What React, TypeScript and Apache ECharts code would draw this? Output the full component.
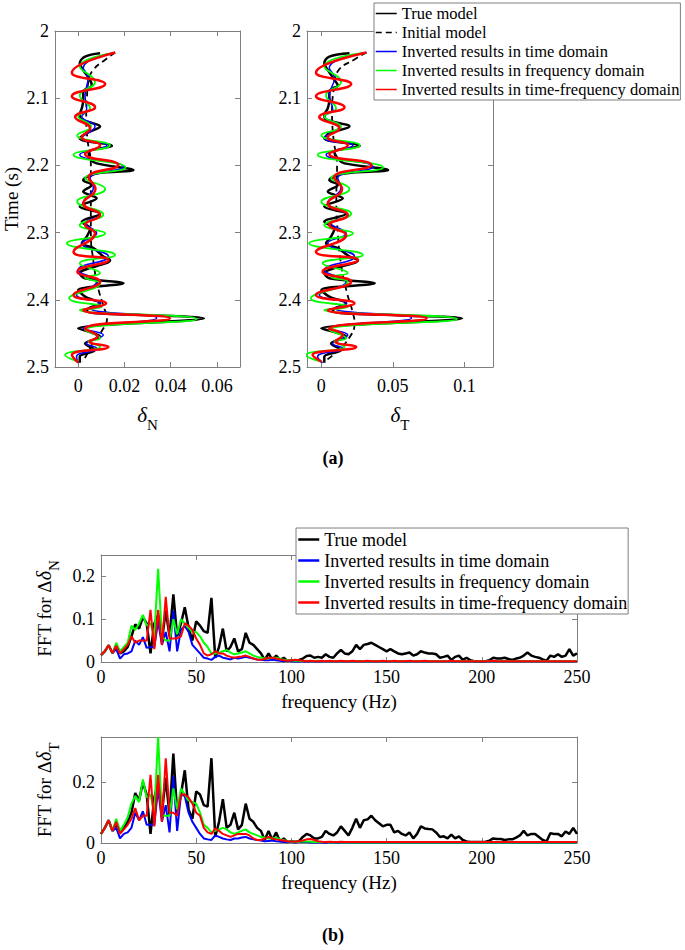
import React, { useEffect, useRef } from "react";
import * as echarts from "echarts";

const FONT = "'Liberation Serif', 'Times New Roman', serif";
const AXIS_COLOR = "#7f7f7f";

const NAMES = [
  "True model",
  "Initial model",
  "Inverted results in time domain",
  "Inverted results in frequency domain",
  "Inverted results in time-frequency domain",
];

// ---------- (a) depth/time profiles : [value, time (s)] ----------
const trueN = [[0.0095,2.033],[0.003,2.038],[0.0007,2.048],[0.0022,2.058],[0.0052,2.073],[0.0059,2.081],[0.0022,2.09],[0.0022,2.103],[0.0016,2.115],[0.0007,2.125],[0.0016,2.132],[0.0095,2.142],[0.0037,2.152],[0.0007,2.16],[0.0146,2.171],[0.0045,2.18],[0.0052,2.19],[0.008,2.197],[0.0239,2.207],[0.008,2.212],[0.0022,2.222],[0.0059,2.229],[0.0022,2.239],[0.008,2.249],[0.0007,2.261],[0.0095,2.272],[0.0016,2.284],[0.0052,2.294],[0.0037,2.306],[0.0016,2.316],[0.0066,2.323],[0.0109,2.3355],[0.0138,2.341],[0.0007,2.3606],[0.003,2.368],[0.0196,2.3755],[0,2.3854],[0.003,2.3953],[0.0095,2.4053],[0.0045,2.4127],[0.0037,2.4177],[0.0544,2.4276],[0,2.4425],[0.0045,2.4474],[0.0095,2.4549],[0.003,2.465],[0.0073,2.4747],[0.0007,2.4846],[0.0007,2.4936]];
const initN = [[0.016,2.032],[0.012,2.042],[0.0065,2.058],[0.0045,2.075],[0.0038,2.1],[0.0035,2.13],[0.004,2.16],[0.0055,2.2],[0.0055,2.25],[0.0055,2.3],[0.0065,2.34],[0.0085,2.38],[0.011,2.41],[0.0125,2.428],[0.0105,2.445],[0.007,2.46],[0.004,2.48],[0.002,2.492]];
const blueN = [[0.016,2.032],[0.0022,2.055],[0.0043,2.07],[0.003,2.096],[0.0037,2.117],[0.0016,2.127],[0.0073,2.142],[0.0016,2.159],[0.0124,2.17],[0.0007,2.184],[0.0196,2.202],[0.0052,2.219],[0.0066,2.233],[0.0022,2.256],[0.0095,2.274],[0.003,2.286],[0.008,2.301],[0.0016,2.316],[0.0131,2.3355],[0,2.3557],[0.008,2.373],[-0.0007,2.393],[0.0095,2.4053],[0.0052,2.4127],[0.034,2.427],[0.0022,2.443],[0.0109,2.4524],[0.0037,2.465],[0.008,2.4723],[-0.0007,2.4846],[0,2.4936]];
const greenN = [[0.015,2.033],[0.0007,2.053],[0.0073,2.076],[0.0007,2.096],[0.0052,2.115],[0,2.127],[0.0056,2.142],[-0.0004,2.155],[0.0138,2.17],[-0.002,2.184],[0.0205,2.203],[0.003,2.219],[0.0117,2.235],[-0.0004,2.254],[0.0109,2.273],[0.0007,2.289],[0.0117,2.301],[-0.0049,2.316],[0.016,2.3333],[0.0007,2.3458],[0.0095,2.3606],[0.003,2.367],[0.0095,2.3755],[-0.0039,2.3978],[0.0102,2.4102],[0.0007,2.415],[0.0513,2.4286],[0.003,2.445],[0.0095,2.4573],[0.0045,2.462],[0.0095,2.4698],[-0.0056,2.4822],[0,2.4921]];
const redN = [[0.016,2.032],[-0.0027,2.062],[0.0117,2.079],[-0.0027,2.097],[0.0073,2.1135],[-0.0013,2.128],[0.0052,2.145],[0.0016,2.158],[0.0095,2.17],[0.003,2.183],[0.0174,2.1995],[0.0045,2.218],[0.0075,2.235],[0.0022,2.2564],[0.0095,2.2738],[0.003,2.2887],[0.0073,2.3011],[-0.002,2.3284],[0.0131,2.3408],[-0.0003,2.3581],[0.0095,2.373],[-0.002,2.3929],[0.0121,2.4053],[0.0022,2.4152],[0.0397,2.4276],[0.003,2.443],[0.0085,2.455],[0.005,2.462],[0.0131,2.47],[-0.0027,2.4822],[0,2.4936]];

const trueT = [[0.0197,2.033],[0.0056,2.038],[0.0021,2.048],[0.0045,2.058],[0.0092,2.073],[0.0115,2.081],[0.0056,2.09],[0.0056,2.103],[0.0045,2.115],[0.0021,2.125],[0.0033,2.132],[0.0197,2.142],[0.0056,2.152],[0.0021,2.16],[0.0268,2.171],[0.0092,2.18],[0.0115,2.19],[0.0162,2.197],[0.0467,2.207],[0.0162,2.212],[0.0056,2.222],[0.0115,2.229],[0.0045,2.239],[0.015,2.249],[0.0021,2.261],[0.0174,2.272],[0.0021,2.284],[0.0092,2.294],[0.0068,2.306],[0.0033,2.316],[0.0115,2.323],[0.0197,2.3355],[0.0256,2.341],[0.0021,2.3606],[0.0056,2.368],[0.0373,2.3755],[0,2.3854],[0.0056,2.3953],[0.0174,2.4053],[0.0092,2.4127],[0.008,2.4177],[0.0984,2.4276],[0,2.4425],[0.008,2.4474],[0.0174,2.4549],[0.0068,2.465],[0.0138,2.4747],[0.0021,2.4846],[0.0021,2.4936]];
const initT = [[0.0315,2.032],[0.0235,2.042],[0.0115,2.06],[0.0092,2.08],[0.0075,2.12],[0.0085,2.16],[0.011,2.2],[0.0105,2.25],[0.0115,2.3],[0.014,2.35],[0.018,2.39],[0.0215,2.415],[0.0232,2.435],[0.02,2.455],[0.0103,2.478],[0.0021,2.492]];
const blueT = [[0.0315,2.032],[0.0056,2.055],[0.0092,2.07],[0.0056,2.096],[0.008,2.117],[0.0021,2.127],[0.0127,2.142],[0.0021,2.159],[0.0221,2.17],[0.0033,2.184],[0.0362,2.202],[0.0115,2.219],[0.0138,2.233],[0.0045,2.256],[0.0185,2.274],[0.0068,2.286],[0.0174,2.301],[0.0045,2.316],[0.0232,2.3355],[0.0021,2.3557],[0.0174,2.373],[-0.0014,2.393],[0.0174,2.4053],[0.0092,2.4127],[0.0631,2.427],[0.0056,2.443],[0.0185,2.4524],[0.008,2.465],[0.015,2.4723],[-0.0026,2.4846],[0.0009,2.4936]];
const greenT = [[0.029,2.033],[0.0021,2.053],[0.0138,2.076],[0.0033,2.096],[0.0103,2.115],[0.0021,2.127],[0.0138,2.142],[0,2.155],[0.0268,2.17],[-0.0026,2.184],[0.0432,2.203],[0.0068,2.219],[0.0197,2.235],[0,2.254],[0.0209,2.272],[0.0021,2.2887],[0.0221,2.3011],[-0.0085,2.316],[0.0291,2.3333],[0.0009,2.3458],[0.0185,2.36],[0.0068,2.366],[0.0185,2.373],[-0.0073,2.3978],[0.0185,2.4102],[0.0021,2.415],[0.0948,2.4286],[0.0056,2.445],[0.0174,2.4573],[0.0092,2.462],[0.0162,2.4698],[-0.0108,2.4822],[0,2.4921]];
const redT = [[0.0315,2.032],[-0.0037,2.062],[0.0209,2.079],[-0.0037,2.097],[0.0162,2.1135],[-0.0014,2.128],[0.0127,2.145],[0.0045,2.158],[0.0185,2.17],[0.0056,2.183],[0.035,2.1995],[0.009,2.218],[0.0145,2.235],[0.0045,2.2564],[0.0185,2.2738],[0.0056,2.2887],[0.0174,2.3036],[-0.0037,2.3284],[0.0256,2.3408],[0.0009,2.3581],[0.0209,2.373],[-0.0037,2.3929],[0.0232,2.4053],[0.0045,2.4152],[0.0737,2.4276],[0.0056,2.443],[0.015,2.4524],[0.01,2.462],[0.0244,2.4698],[-0.0061,2.4822],[0,2.4921]];

// ---------- (b) spectra ----------
const freqHz = [
  0,2,4,6,8,10,12,14,16,18, 20,22,24,26,28,30,32,34,36,38, 40,42,44,46,48,50,52,54,56,58,
  60,62,64,66,68,70,72,74,76,78, 80,82,84,86,88,90,92,94,96,98, 100,102,104,106,108,110,112,114,116,118,
  120,122,124,126,128,130,132,134,136,138, 140,142,144,146,148,150,152,154,156,158, 160,162,164,166,168,170,172,174,176,178,
  180,182,184,186,188,190,192,194,196,198, 200,202,204,206,208,210,212,214,216,218, 220,222,224,226,228,230,232,234,236,238,
  240,242,244,246,248,250,
];

const fftTrueN = [
  0.016,0.025,0.039,0.021,0.035,0.02,0.025,0.035,0.06,0.088,
  0.078,0.105,0.09,0.02,0.09,0.11,0.05,0.12,0.06,0.158,
  0.06,0.09,0.128,0.08,0.05,0.095,0.085,0.072,0.068,0.15,
  0.01,0.035,0.078,0.025,0.035,0.055,0.025,0.03,0.068,0.045,
  0.04,0.03,0.02,0.005,0.02,0.005,0.015,0.005,0.01,0.002,
  0.004,0.003,0.005,0.008,0.014,0.015,0.01,0.012,0.01,0.018,
  0.012,0.01,0.02,0.028,0.02,0.018,0.025,0.04,0.03,0.04,
  0.042,0.045,0.04,0.035,0.03,0.025,0.03,0.025,0.02,0.018,
  0.02,0.022,0.015,0.018,0.025,0.022,0.02,0.02,0.018,0.01,
  0.012,0.015,0.005,0.012,0.015,0.005,0.01,0.004,0.002,0.002,
  0.002,0.002,0.004,0.01,0.008,0.008,0.01,0.007,0.005,0.008,
  0.01,0.015,0.022,0.015,0.012,0.01,0.006,0.003,0.015,0.012,
  0.018,0.012,0.015,0.03,0.015,0.02,
];
const fftTimeN = [
  0.016,0.025,0.039,0.021,0.03,0.008,0.018,0.02,0.025,0.05,
  0.04,0.058,0.033,0.035,0.035,0.095,0.04,0.07,0.025,0.12,
  0.025,0.075,0.085,0.07,0.04,0.03,0.02,0.01,0.008,0.005,
  0.012,0.015,0.01,0.008,0.006,0.01,0.008,0.01,0.012,0.01,
  0.008,0.006,0.005,0.004,0.004,0.006,0.004,0.003,0.002,0.003,
  0.002,0.001,0.002,0.001,0.002,0.001,0.001,0.002,0.001,0.001,
  0.001,0.002,0.001,0.001,0.002,0.001,0.001,0.001,0.002,0.001,
  0.001,0.001,0.002,0.001,0.001,0.001,0.002,0.001,0.001,0.001,
  0.001,0.001,0.001,0.002,0.001,0.001,0.001,0.001,0.001,0.001,
  0.001,0.001,0.001,0.001,0.001,0.002,0.001,0.001,0.001,0.001,
  0.001,0.001,0.001,0.001,0.001,0.001,0.001,0.001,0.001,0.001,
  0.001,0.001,0.001,0.001,0.001,0.001,0.001,0.001,0.001,0.001,
  0.001,0.001,0.001,0.001,0.001,0.001,
];
const fftFreqN = [
  0.016,0.025,0.039,0.021,0.045,0.025,0.035,0.045,0.085,0.075,
  0.09,0.11,0.085,0.09,0.06,0.218,0.06,0.05,0.05,0.1,
  0.065,0.1,0.09,0.08,0.07,0.07,0.06,0.045,0.035,0.02,
  0.02,0.022,0.025,0.028,0.022,0.018,0.02,0.022,0.025,0.02,
  0.015,0.012,0.01,0.008,0.008,0.01,0.01,0.008,0.005,0.004,
  0.004,0.003,0.003,0.002,0.003,0.002,0.002,0.003,0.002,0.002,
  0.002,0.002,0.002,0.002,0.002,0.002,0.002,0.002,0.002,0.002,
  0.002,0.002,0.002,0.002,0.002,0.002,0.002,0.002,0.002,0.002,
  0.002,0.002,0.002,0.002,0.002,0.002,0.002,0.002,0.002,0.002,
  0.002,0.002,0.002,0.002,0.002,0.002,0.002,0.002,0.002,0.002,
  0.002,0.002,0.002,0.002,0.002,0.002,0.002,0.002,0.002,0.002,
  0.002,0.002,0.002,0.002,0.002,0.002,0.002,0.002,0.002,0.002,
  0.002,0.002,0.002,0.002,0.002,0.002,
];
const fftTfN = [
  0.016,0.025,0.039,0.021,0.038,0.02,0.03,0.04,0.06,0.045,
  0.05,0.05,0.05,0.122,0.03,0.122,0.04,0.152,0.055,0.055,
  0.055,0.06,0.09,0.085,0.075,0.055,0.04,0.02,0.015,0.018,
  0.025,0.02,0.02,0.015,0.012,0.01,0.012,0.013,0.015,0.012,
  0.008,0.006,0.005,0.007,0.01,0.01,0.008,0.006,0.004,0.003,
  0.004,0.005,0.004,0.003,0.002,0.003,0.002,0.002,0.003,0.002,
  0.003,0.002,0.002,0.003,0.002,0.002,0.003,0.002,0.002,0.002,
  0.003,0.002,0.002,0.002,0.003,0.002,0.002,0.003,0.002,0.002,
  0.002,0.003,0.002,0.002,0.002,0.003,0.002,0.002,0.002,0.002,
  0.002,0.002,0.003,0.002,0.002,0.002,0.002,0.002,0.002,0.002,
  0.002,0.002,0.002,0.003,0.002,0.002,0.002,0.002,0.002,0.002,
  0.002,0.002,0.002,0.002,0.002,0.002,0.002,0.002,0.002,0.002,
  0.002,0.002,0.002,0.002,0.002,0.002,
];

const fftTrueT = [
  0.03,0.05,0.075,0.04,0.065,0.035,0.05,0.07,0.1,0.165,
  0.14,0.2,0.16,0.03,0.15,0.2,0.1,0.215,0.09,0.295,
  0.1,0.16,0.24,0.11,0.08,0.17,0.16,0.125,0.12,0.28,
  0.02,0.07,0.145,0.05,0.06,0.1,0.045,0.06,0.13,0.08,
  0.07,0.05,0.04,0.01,0.04,0.01,0.035,0.005,0.015,0.003,
  0.005,0.004,0.006,0.02,0.03,0.025,0.015,0.015,0.02,0.04,
  0.03,0.025,0.035,0.055,0.04,0.025,0.05,0.08,0.05,0.075,
  0.078,0.09,0.075,0.065,0.055,0.06,0.06,0.035,0.04,0.03,
  0.025,0.035,0.015,0.03,0.055,0.048,0.046,0.045,0.035,0.02,
  0.022,0.015,0.028,0.015,0.022,0.01,0.005,0.003,0.003,0.003,
  0.003,0.004,0.008,0.015,0.013,0.013,0.01,0.012,0.012,0.018,
  0.025,0.04,0.025,0.03,0.03,0.02,0.01,0.005,0.032,0.03,
  0.03,0.022,0.038,0.03,0.05,0.03,
];
const fftTimeT = [
  0.03,0.05,0.075,0.04,0.05,0.015,0.03,0.035,0.05,0.1,
  0.075,0.105,0.06,0.06,0.06,0.18,0.07,0.125,0.035,0.22,
  0.04,0.16,0.155,0.1,0.07,0.05,0.03,0.015,0.012,0.01,
  0.025,0.02,0.015,0.012,0.01,0.015,0.015,0.018,0.02,0.015,
  0.012,0.01,0.008,0.006,0.007,0.008,0.006,0.005,0.003,0.004,
  0.003,0.002,0.003,0.004,0.003,0.002,0.002,0.002,0.002,0.001,
  0.002,0.001,0.001,0.002,0.001,0.001,0.001,0.002,0.001,0.001,
  0.001,0.001,0.002,0.001,0.001,0.001,0.001,0.001,0.001,0.001,
  0.001,0.001,0.001,0.001,0.001,0.001,0.001,0.001,0.001,0.001,
  0.001,0.001,0.001,0.001,0.001,0.001,0.001,0.001,0.001,0.001,
  0.001,0.001,0.001,0.001,0.001,0.001,0.001,0.001,0.001,0.001,
  0.001,0.001,0.001,0.001,0.001,0.001,0.001,0.001,0.001,0.001,
  0.001,0.001,0.001,0.001,0.001,0.001,
];
const fftFreqT = [
  0.03,0.05,0.075,0.04,0.08,0.04,0.06,0.085,0.13,0.155,
  0.135,0.21,0.15,0.16,0.1,0.35,0.09,0.09,0.09,0.18,
  0.11,0.18,0.16,0.14,0.135,0.13,0.1,0.06,0.05,0.035,
  0.04,0.045,0.05,0.045,0.035,0.03,0.035,0.04,0.045,0.035,
  0.03,0.025,0.02,0.018,0.015,0.015,0.018,0.012,0.01,0.006,
  0.005,0.004,0.004,0.006,0.005,0.004,0.003,0.003,0.003,0.003,
  0.002,0.002,0.003,0.002,0.002,0.002,0.002,0.002,0.002,0.002,
  0.002,0.002,0.002,0.002,0.002,0.002,0.002,0.002,0.002,0.002,
  0.002,0.002,0.002,0.002,0.002,0.002,0.002,0.002,0.002,0.002,
  0.002,0.002,0.002,0.002,0.002,0.002,0.002,0.002,0.002,0.002,
  0.002,0.002,0.002,0.002,0.002,0.002,0.002,0.002,0.002,0.002,
  0.002,0.002,0.002,0.002,0.002,0.002,0.002,0.002,0.002,0.002,
  0.002,0.002,0.002,0.002,0.002,0.002,
];
const fftTfT = [
  0.03,0.05,0.075,0.04,0.07,0.03,0.045,0.06,0.08,0.115,
  0.075,0.09,0.09,0.225,0.055,0.225,0.07,0.28,0.1,0.1,
  0.09,0.16,0.16,0.15,0.13,0.1,0.09,0.05,0.035,0.03,
  0.048,0.04,0.03,0.025,0.02,0.025,0.03,0.03,0.03,0.025,
  0.015,0.01,0.01,0.015,0.02,0.015,0.012,0.01,0.008,0.006,
  0.005,0.004,0.006,0.008,0.012,0.013,0.01,0.006,0.004,0.003,
  0.004,0.003,0.003,0.004,0.003,0.003,0.003,0.003,0.003,0.003,
  0.003,0.003,0.003,0.003,0.003,0.003,0.003,0.003,0.003,0.003,
  0.003,0.003,0.003,0.003,0.003,0.003,0.003,0.003,0.003,0.003,
  0.003,0.003,0.003,0.003,0.003,0.003,0.003,0.003,0.003,0.003,
  0.003,0.003,0.003,0.003,0.003,0.003,0.003,0.003,0.003,0.003,
  0.003,0.003,0.003,0.003,0.003,0.003,0.003,0.003,0.003,0.003,
  0.003,0.003,0.003,0.003,0.003,0.003,
];

// tick values
const ticksN = [0, 0.02, 0.04, 0.06];
const ticksT = [0, 0.05, 0.1];
const ticksTime = [2, 2.1, 2.2, 2.3, 2.4, 2.5];
const ticksFreq = [0, 50, 100, 150, 200, 250];
const ticksFftN = [0, 0.1, 0.2];
const ticksFftT = [0, 0.2];

const labelText = { fontFamily: FONT, fontSize: 18, color: "#000" };
const lineAxis = { show: true, onZero: false, lineStyle: { color: AXIS_COLOR, width: 1 } };

function boxAxes(dim: "x" | "y", grid: number, min: number, max: number, ticks: number[], opts: any) {
  const tick = { show: true, inside: true, length: 5, customValues: ticks, lineStyle: { color: AXIS_COLOR } };
  const main = {
    type: "value",
    gridIndex: grid,
    position: dim === "x" ? "bottom" : "left",
    min,
    max,
    inverse: !!opts.inverse,
    axisLine: lineAxis,
    axisTick: tick,
    axisLabel: { show: true, customValues: ticks, margin: opts.margin, ...labelText },
    splitLine: { show: false },
    name: opts.name || "",
    nameLocation: "middle",
    nameGap: opts.nameGap || 0,
    nameTextStyle: opts.nameTextStyle,
  };
  const other = {
    type: "value",
    gridIndex: grid,
    position: dim === "x" ? "top" : "right",
    min,
    max,
    inverse: !!opts.inverse,
    axisLine: lineAxis,
    axisTick: tick,
    axisLabel: { show: false },
    splitLine: { show: false },
  };
  return [main, other];
}

const subRich = (size: number) => ({
  fontFamily: FONT,
  fontSize: 20,
  color: "#000",
  rich: {
    r: { fontFamily: FONT, fontSize: size, color: "#000" },
    d: { fontFamily: FONT, fontSize: size + 1, fontStyle: "italic", color: "#000" },
    s: { fontFamily: FONT, fontSize: 15, color: "#000", padding: [20, 0, 0, 0] },
  },
});

function lineSeries(name: string, data: number[][], g: number, color: string, width: number, extra: any = {}) {
  return {
    type: "line",
    name,
    data,
    xAxisIndex: 2 * g,
    yAxisIndex: 2 * g,
    symbol: "none",
    showSymbol: false,
    lineStyle: { color, width, type: extra.dash ? [6, 4] : "solid" },
    itemStyle: { color },
    smooth: extra.smooth ?? false,
    animation: false,
  };
}

const pairs = (vals: number[]) => freqHz.map((f, i) => [f, vals[i]]);

export default function App() {
  const ref = useRef<HTMLDivElement>(null);
  useEffect(() => {
    if (!ref.current) return;
    const chart = echarts.init(ref.current, null, { renderer: "svg" });
    const grids = [
      { left: 55, top: 31, width: 185, height: 336 },
      { left: 307, top: 31, width: 186, height: 336 },
      { left: 101, top: 555, width: 476, height: 107 },
      { left: 101, top: 737, width: 476, height: 106 },
    ];
    const xAxis = [
      ...boxAxes("x", 0, -0.01, 0.07, ticksN, { margin: 10, name: "{d|δ}{s|N}", nameGap: 30, nameTextStyle: subRich(20) }),
      ...boxAxes("x", 1, -0.01, 0.12, ticksT, { margin: 10, name: "{d|δ}{s|T}", nameGap: 30, nameTextStyle: subRich(20) }),
      ...boxAxes("x", 2, 0, 250, ticksFreq, { margin: 6, name: "frequency (Hz)", nameGap: 30, nameTextStyle: { fontFamily: FONT, fontSize: 19, color: "#000" } }),
      ...boxAxes("x", 3, 0, 250, ticksFreq, { margin: 6, name: "frequency (Hz)", nameGap: 30, nameTextStyle: { fontFamily: FONT, fontSize: 19, color: "#000" } }),
    ];
    const yAxis = [
      ...boxAxes("y", 0, 2, 2.5, ticksTime, { inverse: true, margin: 6, name: "Time (s)", nameGap: 34, nameTextStyle: { fontFamily: FONT, fontSize: 19, color: "#000" } }),
      ...boxAxes("y", 1, 2, 2.5, ticksTime, { inverse: true, margin: 6 }),
      ...boxAxes("y", 2, 0, 0.25, ticksFftN, { margin: 6, name: "{r|FFT for Δ}{d|δ}{s|N}", nameGap: 38, nameTextStyle: subRich(19) }),
      ...boxAxes("y", 3, 0, 0.35, ticksFftT, { margin: 6, name: "{r|FFT for Δ}{d|δ}{s|T}", nameGap: 38, nameTextStyle: subRich(19) }),
    ];
    const series: any[] = [];
    const prof = [
      [trueN, initN, blueN, greenN, redN],
      [trueT, initT, blueT, greenT, redT],
    ];
    prof.forEach((set, g) => {
      series.push(lineSeries(NAMES[0], set[0], g, "#000000", 2.5, { smooth: 0.35 }));
      series.push(lineSeries(NAMES[1], set[1], g, "#000000", 1.8, { smooth: 0.5, dash: true }));
      series.push(lineSeries(NAMES[2], set[2], g, "#0000ff", 1.5, { smooth: 0.5 }));
      series.push(lineSeries(NAMES[3], set[3], g, "#00ff00", 1.8, { smooth: 0.5 }));
      series.push(lineSeries(NAMES[4], set[4], g, "#ff0000", 2.5, { smooth: 0.5 }));
    });
    const ffts = [
      [fftTrueN, fftTimeN, fftFreqN, fftTfN],
      [fftTrueT, fftTimeT, fftFreqT, fftTfT],
    ];
    ffts.forEach((set, k) => {
      const g = k + 2;
      series.push(lineSeries(NAMES[0], pairs(set[0]), g, "#000000", 2.5));
      series.push(lineSeries(NAMES[2], pairs(set[1]), g, "#0000ff", 2));
      series.push(lineSeries(NAMES[3], pairs(set[2]), g, "#00ff00", 2));
      series.push(lineSeries(NAMES[4], pairs(set[3]), g, "#ff0000", 2));
    });

    const legendBase = {
      orient: "vertical",
      selectedMode: false,
      itemWidth: 21,
      itemHeight: 10,
      itemGap: 2,
      padding: [2, 1, 2, 1],
      backgroundColor: "#ffffff",
      borderColor: AXIS_COLOR,
      borderWidth: 1,
      itemStyle: { opacity: 0 },
      z: 10,
    };

    chart.setOption({
      animation: false,
      backgroundColor: "#ffffff",
      grid: grids,
      xAxis,
      yAxis,
      series,
      legend: [
        {
          ...legendBase,
          left: 374,
          top: 3,
          data: NAMES,
          lineStyle: { width: 1.5 },
          textStyle: { fontFamily: FONT, fontSize: 16.5, color: "#000", lineHeight: 17 },
        },
        {
          ...legendBase,
          left: 296,
          top: 528,
          data: [NAMES[0], NAMES[2], NAMES[3], NAMES[4]],
          lineStyle: { width: 2.5 },
          textStyle: { fontFamily: FONT, fontSize: 18, color: "#000", lineHeight: 19 },
        },
      ],
      graphic: [
        { type: "text", x: 333, y: 458, style: { text: "(a)", font: `bold 18px ${FONT}`, fill: "#000", textAlign: "center", textVerticalAlign: "middle" } },
        { type: "text", x: 333, y: 935, style: { text: "(b)", font: `bold 18px ${FONT}`, fill: "#000", textAlign: "center", textVerticalAlign: "middle" } },
      ],
    });
    return () => chart.dispose();
  }, []);
  return <div ref={ref} style={{ position: "fixed", left: 0, top: 0, width: 685, height: 950, background: "#fff" }} />;
}
